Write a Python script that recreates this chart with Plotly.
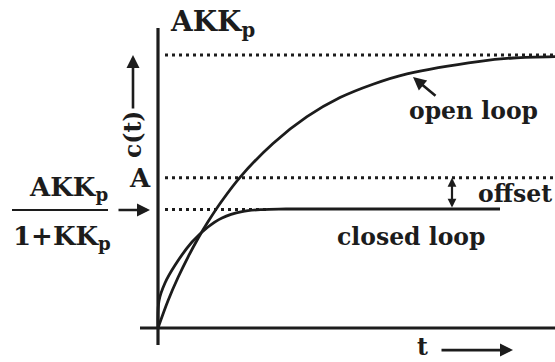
import plotly.graph_objects as go

# ============================================================================
# DATA (normalised units: open-loop final value AKKp = 1)
# ============================================================================

t_open = [0, 0.25, 0.5, 0.75, 1.0, 1.25, 1.6, 2.05, 2.875, 3.725, 4.55,
          5.375, 6.225, 8.05, 8.875, 9.925]
c_open = [0, 0.10, 0.185, 0.26, 0.328, 0.389, 0.466, 0.552, 0.676, 0.774,
          0.844, 0.893, 0.931, 0.977, 0.989, 0.994]

t_closed = [0, 0.025, 0.175, 0.425, 0.85, 1.25, 1.6, 2.1, 2.6, 3.2, 8.55]
c_closed = [0, 0.10, 0.165, 0.23, 0.315, 0.37, 0.403, 0.426, 0.434, 0.436, 0.436]

level_names = ["AKKp", "A", "AKKp/(1+KKp)"]
level_values = [1.0, 0.55, 0.434]
level_ends = [9.925, 9.925, 2.8]

INK = "#1c1c1c"
FONT = dict(family="DejaVu Serif", size=23.5, color=INK, weight="bold")
BIG_FONT = dict(family="DejaVu Serif", size=26, color=INK, weight="bold")
TOP_FONT = dict(family="DejaVu Serif", size=28, color=INK, weight="bold")

fig = go.Figure()

# reference levels (dotted)
for name, val, end in zip(level_names, level_values, level_ends):
    fig.add_trace(go.Scatter(
        x=[0.175, end], y=[val, val], mode="lines", name=name,
        line=dict(color=INK, width=3, dash="3px,4px"),
        hoverinfo="skip"
    ))

fig.add_trace(go.Scatter(
    x=t_open, y=c_open, mode="lines", name="open loop",
    line=dict(color=INK, width=2.8, shape="spline", smoothing=1.0)
))
fig.add_trace(go.Scatter(
    x=t_closed, y=c_closed, mode="lines", name="closed loop",
    line=dict(color=INK, width=2.8, shape="spline", smoothing=1.0)
))

# axes drawn as lines
fig.add_shape(type="line", x0=0, x1=0, y0=-0.062, y1=1.099,
              line=dict(color=INK, width=3.2))
fig.add_shape(type="line", x0=-0.45, x1=9.925, y0=0, y1=0,
              line=dict(color=INK, width=3.2))
# fraction bar
fig.add_shape(type="line", x0=-3.65, x1=-1.25, y0=0.432, y1=0.432,
              line=dict(color=INK, width=2))

fig.add_annotation(x=0.25, y=1.115, text="AKK<sub>p</sub>", xanchor="left",
                   xref="x", yref="y", showarrow=False, yanchor="middle",
                   font=TOP_FONT)

texts = [
    dict(x=-0.45, y=0.548, text="A", xanchor="center"),
    dict(x=-2.24, y=0.51, text="AKK<sub>p</sub>", xanchor="center"),
    dict(x=-2.4, y=0.33, text="1+KK<sub>p</sub>", xanchor="center"),
]
for a in texts:
    fig.add_annotation(xref="x", yref="y", showarrow=False, yanchor="middle",
                       font=BIG_FONT, **a)

labels = [
    dict(x=7.875, y=0.795, text="open loop", xanchor="center"),
    dict(x=9.9, y=0.49, text="offset", xanchor="right"),
    dict(x=6.325, y=0.333, text="closed loop", xanchor="center"),
    dict(x=6.6, y=-0.07, text="t", xanchor="center"),
]
for a in labels:
    fig.add_annotation(xref="x", yref="y", showarrow=False, yanchor="middle",
                       font=FONT, **a)

fig.add_annotation(x=-0.625, y=0.707, xref="x", yref="y", text="c(t)",
                   textangle=-90, showarrow=False, font=FONT)

arrows = [
    (-0.625, 1.0, -0.625, 0.799),     # c(t) arrow
    (-0.2, 0.432, -1.025, 0.432),     # fraction arrow
    (6.375, 0.919, 6.975, 0.846),     # open loop pointer
    (8.875, -0.081, 7.05, -0.081),    # t arrow
]
for x, y, ax, ay in arrows:
    fig.add_annotation(x=x, y=y, ax=ax, ay=ay, xref="x", yref="y",
                       axref="x", ayref="y", text="", showarrow=True,
                       arrowhead=2, arrowsize=1, arrowwidth=2.6,
                       arrowcolor=INK)

# offset double arrow
fig.add_annotation(x=7.35, y=0.55, ax=7.35, ay=0.436, xref="x", yref="y",
                   axref="x", ayref="y", text="", showarrow=True,
                   arrowhead=2, startarrowhead=2, arrowside="end+start",
                   arrowsize=0.8, startarrowsize=0.8, arrowwidth=2.2,
                   arrowcolor=INK)

fig.update_layout(
    width=555, height=362,
    margin=dict(l=0, r=0, t=0, b=0),
    paper_bgcolor="white", plot_bgcolor="white",
    showlegend=False,
    xaxis=dict(range=[-3.95, 9.925], visible=False, fixedrange=True),
    yaxis=dict(range=[-0.1245, 1.2015], visible=False, fixedrange=True),
)

fig.write_html("out.html", config={"displayModeBar": False},
               post_script="document.body.style.margin='0';")
